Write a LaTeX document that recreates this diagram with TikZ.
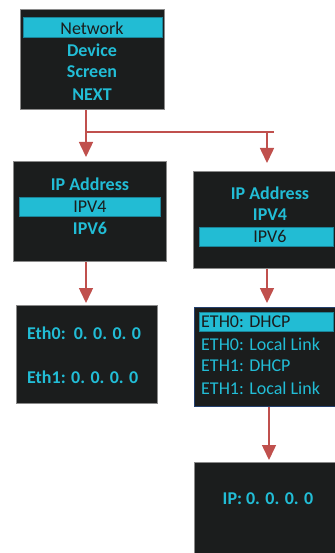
\documentclass[tikz,border=0pt]{standalone}
\usepackage{fontspec}
\setmainfont{Carlito}
\usetikzlibrary{arrows.meta}
\definecolor{screenbg}{HTML}{1B1D1D}
\definecolor{screenline}{HTML}{8A8A8A}
\definecolor{cyantext}{HTML}{22BDD6}
\definecolor{barfill}{HTML}{22BCD4}
\definecolor{barline}{HTML}{1A8498}
\definecolor{flowred}{HTML}{C0504D}
\definecolor{navyline}{HTML}{24406E}
\tikzset{
  x=1pt, y=-1pt,
  screen/.style={rectangle, fill=screenbg, draw=screenline, line width=0.8pt, inner sep=0pt, anchor=north west},
  selbar/.style={rectangle, fill=barfill, draw=barline, line width=0.8pt, inner sep=0pt, anchor=north west},
  item/.style={text=cyantext, font=\fontsize{18}{20}\selectfont\bfseries, inner sep=0pt, anchor=center},
  selitem/.style={text=screenbg, font=\fontsize{18}{20}\selectfont, inner sep=0pt, anchor=center},
  listitem/.style={text=cyantext, font=\fontsize{18}{20}\selectfont, inner sep=0pt, anchor=west},
  flow/.style={draw=flowred, line width=1.5pt},
  flowarrow/.style={flow, -{Triangle[width=14pt,length=15pt]}},
}
\begin{document}
\begin{tikzpicture}
\useasboundingbox (0,0) rectangle (334,553);
\fill[white] (0,0) rectangle (334,553);

% Main menu
\node[screen, minimum width=144pt, minimum height=100pt] (menu) at (20,9) {};
\node[selbar, minimum width=139pt, minimum height=20pt] (menubar) at (23,17) {};
\node[selitem] (network) at (92,28) {Network};
\node[item] (device) at (92,50) {Device};
\node[item] (screenitem) at (92,72) {Screen};
\node[item] (next) at (92,95) {NEXT};

% IP address menu, IPV4 selected
\node[screen, minimum width=153pt, minimum height=100pt] (ipmenua) at (13,161) {};
\node[selbar, minimum width=141pt, minimum height=19pt] (bara) at (19,197) {};
\node[item] (ipa) at (90,184) {IP Address};
\node[selitem] (ipv4a) at (90,206.5) {IPV4};
\node[item] (ipv6a) at (90,228) {IPV6};

% IPV4 addresses
\node[screen, minimum width=141pt, minimum height=98pt] (v4box) at (16,305) {};
\node[item, anchor=west] (eth0) at (27,333) {Eth0:\ \ 0. 0. 0. 0};
\node[item, anchor=west] (eth1) at (27,377) {Eth1: 0. 0. 0. 0};

% IP address menu, IPV6 selected
\node[screen, minimum width=143pt, minimum height=97pt] (ipmenub) at (193,171) {};
\node[selbar, minimum width=134pt, minimum height=19pt] (barb) at (199,227) {};
\node[item] (ipb) at (270,193) {IP Address};
\node[item] (ipv4b) at (270,215) {IPV4};
\node[selitem] (ipv6b) at (270,236.5) {IPV6};

% IPV6 mode list
\node[screen, draw=navyline, line width=1pt, minimum width=142pt, minimum height=99pt] (modebox) at (194,307) {};
\node[selbar, minimum width=134pt, minimum height=19pt] (barc) at (199,312) {};
\node[listitem, text=screenbg] (l1) at (201,321.5) {ETH0: DHCP};
\node[listitem] (l2) at (201,344) {ETH0: Local Link};
\node[listitem] (l3) at (201,366) {ETH1: DHCP};
\node[listitem] (l4) at (201,388) {ETH1: Local Link};

% IPV6 address
\node[screen, minimum width=142pt, minimum height=94pt] (v6box) at (194,462) {};
\node[item] (ipaddr) at (268,499) {IP: 0. 0. 0. 0};

% Flow connectors
\coordinate (jn) at (86,132);
\coordinate (jr) at (267,132);
\coordinate (jend) at (274,132);
\coordinate (c0) at (269,0);

\draw[flow] (jn) -- (jend);
\draw[flowarrow] (menu.south -| jn) -- ([yshift=4pt]ipmenua.north -| jn);
\draw[flowarrow] (jr) -- ([yshift=8pt]ipmenub.north -| jr);
\draw[flowarrow] (ipmenua.south -| jn) -- ([yshift=2pt]v4box.north -| jn);
\draw[flowarrow] (ipmenub.south -| jr) -- ([yshift=4pt]modebox.north -| jr);
\draw[flowarrow] (modebox.south -| c0) -- ([yshift=2pt]v6box.north -| c0);
\end{tikzpicture}
\end{document}
